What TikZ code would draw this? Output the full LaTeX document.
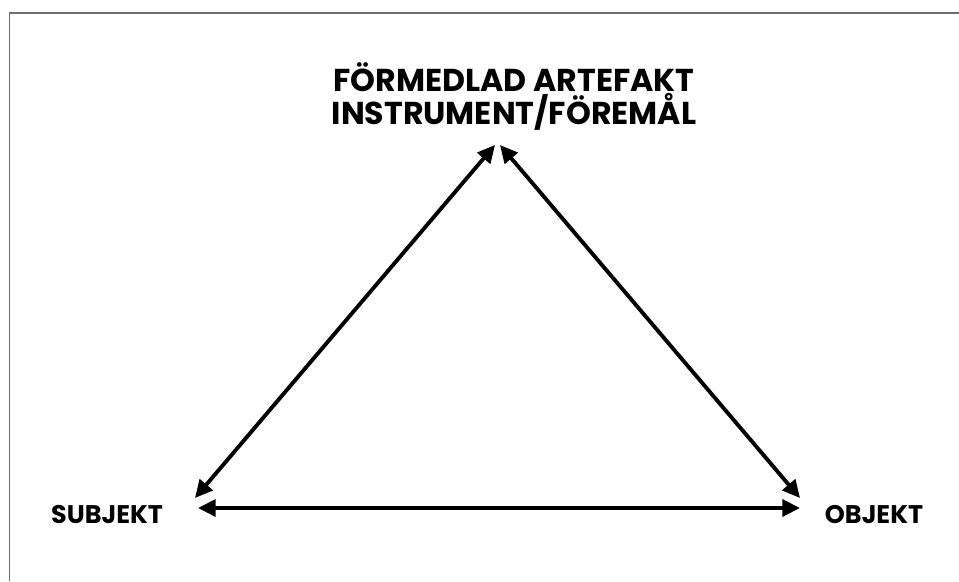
\documentclass[tikz,border=0pt]{standalone}
\usepackage{fontspec}
\setmainfont{Poppins}
\usepackage{xcolor}
\definecolor{framegray}{RGB}{110,110,110}
\usetikzlibrary{arrows.meta}

\begin{document}
\begin{tikzpicture}[
        lbl/.style={font=\fontsize{14.5}{17.5}\selectfont\bfseries, align=center, inner sep=0pt},
        toplbl/.style={font=\fontsize{18}{17.8}\selectfont\bfseries, align=center, inner sep=0pt},
        arr/.style={{Triangle[length=10pt, width=9.5pt]}-{Triangle[length=10pt, width=9.5pt]}, line width=2.2pt}
      ]
        \useasboundingbox (0,0) rectangle (19.18,11.62);
        % frame (top and left edge only)
        \draw[framegray, line width=1.1pt] (0.19,0) -- (0.19,11.36) -- (19.18,11.36);

        % labels
        \node[toplbl] (art) at (10.28,9.69) {FÖRMEDLAD ARTEFAKT\\INSTRUMENT/FÖREMÅL};
        \node[lbl] (subj) at (2.14,1.32)  {SUBJEKT};
        \node[lbl] (obj)  at (17.48,1.32) {OBJEKT};

        % arrow ends
        \coordinate (sa) at (3.90,1.66);
        \coordinate (as) at (9.90,8.72);
        \coordinate (ao) at (10.00,8.72);
        \coordinate (oa) at (16.00,1.66);
        \coordinate (so) at (3.96,1.46);
        \coordinate (os) at (16.00,1.46);

        \draw[arr] (sa) -- (as);
        \draw[arr] (ao) -- (oa);
        \draw[arr] (so) -- (os);
      \end{tikzpicture}
\end{document}
